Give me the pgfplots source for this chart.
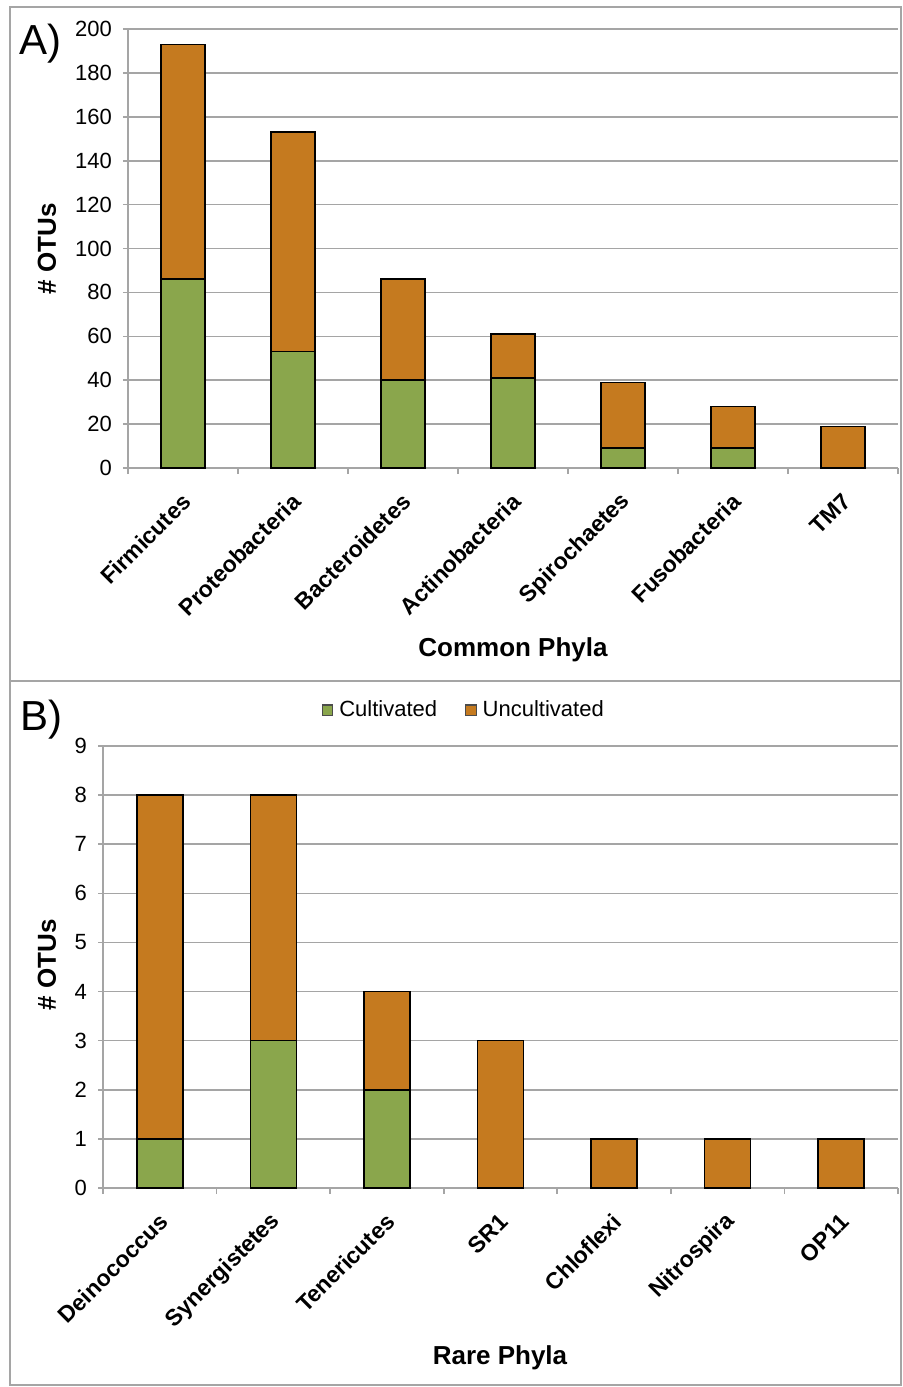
\documentclass[border=0pt]{standalone}
\usepackage{pgfplots}
\pgfplotsset{compat=1.18}
\usepackage{fontspec}
\setmainfont{Liberation Sans}
\definecolor{cult}{RGB}{138,166,76}
\definecolor{uncult}{RGB}{197,122,31}
\definecolor{gridgray}{RGB}{165,165,165}
\pgfplotsset{
  sqlegend/.style={legend image code/.code={\draw[##1, draw=black!70, line width=0.6pt] (0pt,-2.6pt) rectangle (5.2pt,2.6pt);}},
  phyla/.style={
    scale only axis,
    ybar stacked,
    xmin=-0.5, xmax=6.5, ymin=0,
    axis x line*=bottom, axis y line*=left,
    axis line style={gridgray, line width=0.8pt},
    ymajorgrids, grid style={gridgray, line width=0.8pt},
    xtick={0,...,6}, major x tick style={draw=none},
    minor xtick={-0.5,0.5,...,6.5},
    minor x tick style={gridgray, line width=0.8pt},
    minor tick length=3pt,
    y tick style={gridgray, line width=0.8pt},
    major tick length=2.5pt,
    tick align=outside,
    /pgf/number format/assume math mode=true,
    yticklabel style={font=\fontsize{11}{13}\selectfont, xshift=-2pt},
    xticklabel style={font=\bfseries\fontsize{11.5}{13}\selectfont, rotate=45, anchor=east, xshift=-4pt, yshift=-10pt},
    every axis plot/.append style={draw=black, line width=0.8pt},
  }
}
\begin{document}
\begin{tikzpicture}
\path[use as bounding box] (0pt,0pt) rectangle (451pt,-693.5pt);
\draw[gridgray, line width=0.8pt] (5pt,-3.5pt) rectangle (450.5pt,-340.5pt);
\draw[gridgray, line width=0.8pt] (5pt,-340.5pt) rectangle (450.5pt,-692.5pt);

\begin{axis}[phyla,
  at={(64pt,-234pt)}, anchor=south west,
  width=385pt, height=219.5pt,
  ymax=200, ytick={0,20,...,200},
  bar width=22pt,
  xticklabels={Firmicutes,Proteobacteria,Bacteroidetes,Actinobacteria,Spirochaetes,Fusobacteria,TM7},
]
\addplot[fill=cult] coordinates {(0,86) (1,53) (2,40) (3,41) (4,9) (5,9) (6,0)};
\addplot[fill=uncult] coordinates {(0,107) (1,100) (2,46) (3,20) (4,30) (5,19) (6,19)};
\end{axis}

\begin{axis}[phyla, sqlegend,
  at={(51.5pt,-594pt)}, anchor=south west,
  width=397.5pt, height=221pt,
  ymax=9, ytick={0,1,...,9},
  bar width=23pt,
  xticklabels={Deinococcus,Synergistetes,Tenericutes,SR1,Chloflexi,Nitrospira,OP11},
  legend columns=2,
  legend style={at={(0.455,1.081)}, anchor=center, draw=none, fill=none,
    font=\fontsize{11}{13}\selectfont, column sep=1pt,
    /tikz/every even column/.append style={column sep=12pt}},
  legend cell align=left,
]
\addplot[fill=cult] coordinates {(0,1) (1,3) (2,2) (3,0) (4,0) (5,0) (6,0)};
\addlegendentry{Cultivated}
\addplot[fill=uncult] coordinates {(0,7) (1,5) (2,2) (3,3) (4,1) (5,1) (6,1)};
\addlegendentry{Uncultivated}
\end{axis}

\node[font=\bfseries\fontsize{13}{15}\selectfont, rotate=90] at (23.5pt,-124.5pt) {\# OTUs};
\node[font=\bfseries\fontsize{13}{15}\selectfont, rotate=90] at (23.5pt,-482.5pt) {\# OTUs};
\node[font=\bfseries\fontsize{13}{15}\selectfont] at (256.5pt,-325pt) {Common Phyla};
\node[font=\bfseries\fontsize{13}{15}\selectfont] at (250pt,-679pt) {Rare Phyla};
\node[font=\fontsize{21}{25}\selectfont] at (20pt,-22pt) {A)};
\node[font=\fontsize{21}{25}\selectfont] at (20.5pt,-360pt) {B)};
\end{tikzpicture}
\end{document}
